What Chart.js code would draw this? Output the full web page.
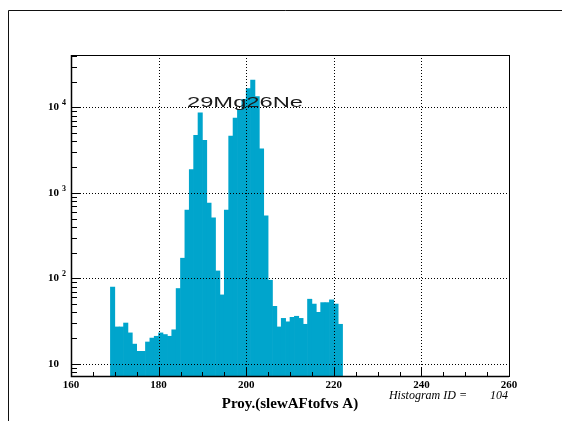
<!DOCTYPE html>
<html>
<head>
<meta charset="utf-8">
<script src="https://cdn.jsdelivr.net/npm/chart.js@4/dist/chart.umd.min.js"></script>
<style>
  body { margin: 0; background: #fff; }
  canvas { display: block; }
</style>
</head>
<body>
<canvas id="histo" width="562" height="421"></canvas>
<script>
// lower edge of each 1-unit bin, and its content
const binEdges = [];
for (let e = 169; e <= 221; e++) binEdges.push(e);
const counts = [
  79, 27, 27, 30, 23, 17, 14, 14, 18, 20,
  21, 23, 22, 21, 25, 76, 172, 630, 1870, 4700,
  8650, 4120, 760, 510, 122, 64, 630, 4600, 7500, 9500,
  12400, 16600, 20900, 13400, 3270, 540, 95, 47, 27, 34,
  31, 35, 36, 34, 29, 57, 50, 40, 52, 52,
  56, 50, 29
];
const xTicks = [160, 180, 200, 220, 240, 260];
const yDecades = [10, 100, 1000, 10000];
const yExponents = ['', '2', '3', '4'];
const histTitle = '29Mg26Ne';
const xTitle = 'Proy.(slewAFtofvs A)';
const histInfoLabel = 'Histogram ID =';
const histInfoValue = '104';

const serif = '"Liberation Serif", "Times New Roman", serif';

// ROOT-like frame, inside ticks, dotted grid and labels
const rootStyle = {
  id: 'rootStyle',
  beforeDraw(chart) {
    const ctx = chart.ctx;
    ctx.save();
    ctx.fillStyle = '#fff';
    ctx.fillRect(0, 0, chart.width, chart.height);
    ctx.restore();
  },
  afterDatasetsDraw(chart) {
    const ctx = chart.ctx;
    const xs = chart.scales.x, ys = chart.scales.y;
    const a = chart.chartArea;
    ctx.save();

    // outer pad border
    ctx.strokeStyle = '#111';
    ctx.lineWidth = 1;
    ctx.beginPath();
    ctx.moveTo(8.5, chart.height);
    ctx.lineTo(8.5, 10.5);
    ctx.lineTo(chart.width, 10.5);
    ctx.stroke();

    // dotted grid
    ctx.setLineDash([1, 2]);
    ctx.strokeStyle = '#000';
    ctx.beginPath();
    xTicks.slice(1, -1).forEach(v => {
      const px = Math.round(xs.getPixelForValue(v)) + 0.5;
      ctx.moveTo(px, a.top);
      ctx.lineTo(px, a.bottom);
    });
    yDecades.forEach(v => {
      const py = Math.round(ys.getPixelForValue(v)) + 0.5;
      ctx.moveTo(a.left, py);
      ctx.lineTo(a.right, py);
    });
    ctx.stroke();
    ctx.setLineDash([]);

    // frame
    ctx.strokeStyle = '#000';
    ctx.lineWidth = 1;
    ctx.strokeRect(a.left + 0.5, a.top + 0.5, a.right - a.left, a.bottom - a.top);
    ctx.lineWidth = 1.5;
    ctx.beginPath();
    ctx.moveTo(a.left + 0.5, a.top);
    ctx.lineTo(a.left + 0.5, a.bottom + 0.5);
    ctx.lineTo(a.right, a.bottom + 0.5);
    ctx.stroke();

    // x ticks every 5, pointing up
    ctx.lineWidth = 1;
    ctx.beginPath();
    for (let v = 160; v <= 260; v += 5) {
      const px = Math.round(xs.getPixelForValue(v)) + 0.5;
      const len = v % 20 === 0 ? 8 : 4;
      ctx.moveTo(px, a.bottom);
      ctx.lineTo(px, a.bottom - len);
    }
    // y ticks 1..9 per decade, pointing right
    for (let d = 1; d <= 10000; d *= 10) {
      for (let k = 1; k <= 9; k++) {
        const v = k * d;
        if (v < ys.min || v > ys.max) continue;
        const py = Math.round(ys.getPixelForValue(v)) + 0.5;
        const len = k === 1 ? 10 : 6;
        ctx.moveTo(a.left, py);
        ctx.lineTo(a.left + len, py);
      }
    }
    ctx.stroke();

    // x labels
    ctx.fillStyle = '#000';
    ctx.font = 'bold 11px ' + serif;
    ctx.textAlign = 'center';
    ctx.textBaseline = 'middle';
    xTicks.forEach(v => ctx.fillText(String(v), xs.getPixelForValue(v), a.bottom + 9));

    // y labels, 10 with raised exponent
    yDecades.forEach((v, i) => {
      const py = ys.getPixelForValue(v);
      ctx.font = 'bold 11px ' + serif;
      ctx.textAlign = 'right';
      ctx.fillText('10', a.left - 12, py);
      if (yExponents[i]) {
        ctx.font = 'bold 8px ' + serif;
        ctx.textAlign = 'left';
        ctx.fillText(yExponents[i], a.left - 9, py - 4);
      }
    });

    // histogram title, stretched wide
    ctx.font = '15px "Liberation Sans", Arial, sans-serif';
    ctx.textAlign = 'left';
    ctx.textBaseline = 'alphabetic';
    ctx.fillStyle = '#1a1a1a';
    const w = ctx.measureText(histTitle).width;
    ctx.save();
    ctx.translate(187, 107);
    ctx.scale(116 / w, 1);
    ctx.fillText(histTitle, 0, 0);
    ctx.restore();

    // axis title and id
    ctx.fillStyle = '#000';
    ctx.font = 'bold 15px ' + serif;
    ctx.textAlign = 'center';
    ctx.textBaseline = 'middle';
    ctx.fillText(xTitle, 290, 404);
    ctx.font = 'italic 12px ' + serif;
    ctx.textAlign = 'right';
    ctx.fillText(histInfoLabel, 467, 396);
    ctx.fillText(histInfoValue, 508, 396);

    ctx.restore();
  }
};

new Chart(document.getElementById('histo'), {
  type: 'bar',
  data: {
    datasets: [{
      data: binEdges.map((e, i) => ({ x: e + 0.5, y: counts[i] })),
      backgroundColor: '#00a5cc',
      borderWidth: 0,
      barPercentage: 1,
      categoryPercentage: 1
    }]
  },
  options: {
    responsive: false,
    animation: false,
    layout: { padding: { left: 0, top: 55, right: 53, bottom: 0 } },
    plugins: { legend: { display: false }, tooltip: { enabled: false } },
    scales: {
      x: {
        type: 'linear', min: 160, max: 260, offset: false,
        grid: { display: false, offset: false }, border: { display: false },
        ticks: { display: false },
        afterFit: s => { s.height = 45; }
      },
      y: {
        type: 'logarithmic', min: 7.2, max: 41000,
        grid: { display: false }, border: { display: false },
        ticks: { display: false },
        afterFit: s => { s.width = 71; }
      }
    }
  },
  plugins: [rootStyle]
});
</script>
</body>
</html>
